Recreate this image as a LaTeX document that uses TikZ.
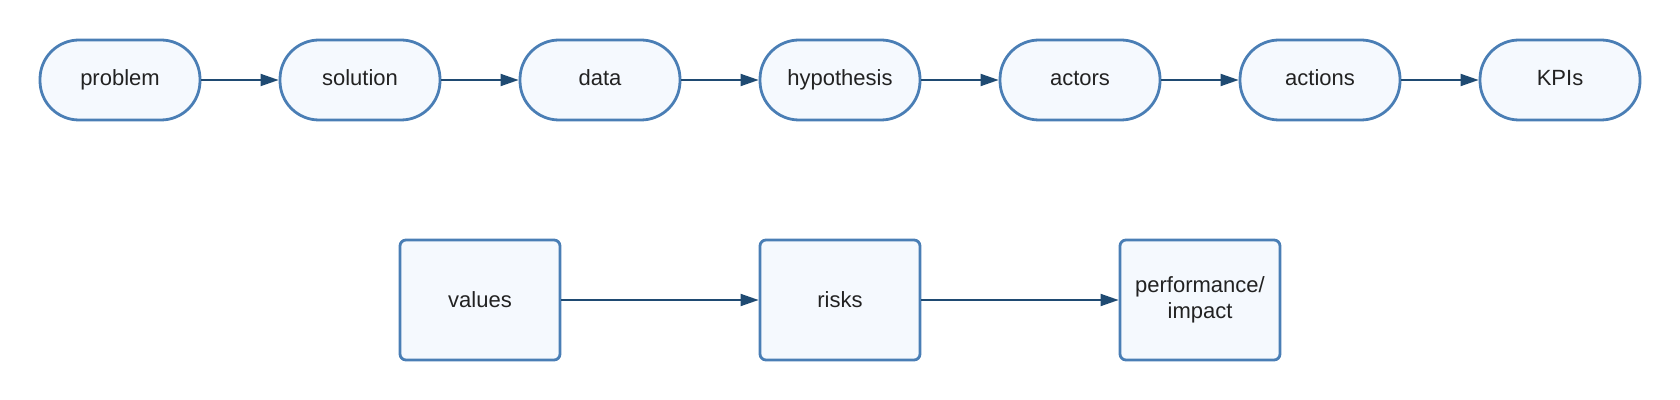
\documentclass[tikz,border=0pt]{standalone}
\usepackage{fontspec}
\setmainfont{Liberation Sans}
\usetikzlibrary{arrows.meta}
\definecolor{bordc}{HTML}{4A7EB5}
\definecolor{fillc}{HTML}{F5F9FE}
\definecolor{arrc}{HTML}{1F4A72}
\definecolor{txtc}{HTML}{222222}
\begin{document}
\begin{tikzpicture}[x=0.5pt,y=-0.5pt,
  pill/.style={draw=bordc,fill=fillc,line width=1.4pt,rounded corners=19.5pt,minimum width=80pt,minimum height=40pt,inner sep=0pt,text=txtc,text height=8.2pt,text depth=2.6pt,font=\fontsize{11}{13}\selectfont},
  box/.style={draw=bordc,fill=fillc,line width=1.4pt,rounded corners=3pt,minimum width=80pt,minimum height=60pt,inner sep=0pt,text=txtc,align=center,font=\fontsize{11}{13}\selectfont},
  conn/.style={draw=arrc,line width=0.9pt,-{Triangle[length=9pt,width=6pt]}}]
\useasboundingbox (0,0) rectangle (1680,400);
\node[pill] (p1) at (120,80) {problem};
\node[pill] (p2) at (360,80) {solution};
\node[pill] (p3) at (600,80) {data};
\node[pill] (p4) at (840,80) {hypothesis};
\node[pill] (p5) at (1080,80) {actors};
\node[pill] (p6) at (1320,80) {actions};
\node[pill] (p7) at (1560,80) {KPIs};
\node[box] (b1) at (480,300) {values};
\node[box] (b2) at (840,300) {risks};
\node[box] (b3) at (1200,300) {performance/\\impact};
\draw[conn] (p1) -- (p2);
\draw[conn] (p2) -- (p3);
\draw[conn] (p3) -- (p4);
\draw[conn] (p4) -- (p5);
\draw[conn] (p5) -- (p6);
\draw[conn] (p6) -- (p7);
\draw[conn] (b1) -- (b2);
\draw[conn] (b2) -- (b3);
\end{tikzpicture}
\end{document}
